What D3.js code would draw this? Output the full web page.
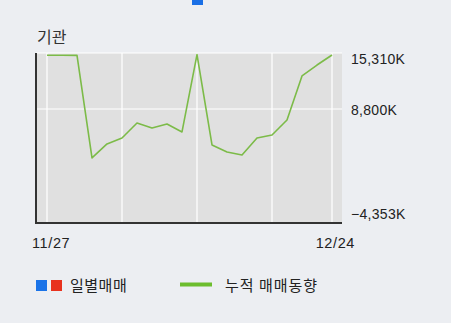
<!DOCTYPE html>
<html>
<head>
<meta charset="utf-8">
<script src="https://cdn.jsdelivr.net/npm/d3@7"></script>
<style>
  body { margin: 0; background: #eceef2; }
  svg { display: block; }
</style>
</head>
<body>
<div id="chart"></div>
<script>
// Data (cumulative net buying, thousand shares)
const dates = ["11/27", "11/28", "11/29", "12/02", "12/03", "12/04", "12/05", "12/06", "12/09", "12/10",
               "12/11", "12/12", "12/13", "12/16", "12/17", "12/18", "12/19", "12/20", "12/23", "12/24"];
const cumulative = [15280, 15280, 15260, 2890, 4580, 5300, 7110, 6510, 6990, 6030,
                    15360, 4460, 3610, 3250, 5300, 5660, 7470, 12780, 14100, 15310];
const yTicks = [15310, 8800, -4353];
const xTickLabels = ["11/27", "12/24"];
const gridIdx = [0, 5, 10, 15, 19];

const width = 451, height = 323;
const plot = { left: 36, right: 342, top: 53, bottom: 223 };

const svg = d3.select("#chart").append("svg")
  .attr("width", width)
  .attr("height", height);

// top legend marker (cut off)
svg.append("rect").attr("x", 192).attr("y", -6).attr("width", 11).attr("height", 11).attr("fill", "#1a6fe6");

// title
svg.append("text").attr("x", 37).attr("y", 43)
  .attr("font-family", "Noto Sans CJK KR").attr("font-size", 16).attr("fill", "#333")
  .text("기관");

// scales
const x = d3.scalePoint().domain(dates).range([47, 332]);
const y = d3.scaleLinear().domain([-4353, 15310]).range([218, 55]);

// plot background
svg.append("rect")
  .attr("x", plot.left).attr("y", plot.top)
  .attr("width", plot.right - plot.left).attr("height", plot.bottom - plot.top)
  .attr("fill", "#e0e0e0");

// grid
svg.append("g").selectAll("line").data(gridIdx).join("line")
  .attr("x1", i => x(dates[i])).attr("x2", i => x(dates[i]))
  .attr("y1", plot.top).attr("y2", plot.bottom)
  .attr("stroke", "#fff").attr("stroke-width", 1.2);
svg.append("g").selectAll("line").data([15310 + 200, 8800]).join("line")
  .attr("x1", plot.left).attr("x2", plot.right)
  .attr("y1", d => Math.round(y(d))).attr("y2", d => Math.round(y(d)))
  .attr("stroke", "#fff").attr("stroke-width", 1.2);

// axes lines
svg.append("line").attr("x1", plot.left).attr("x2", plot.left)
  .attr("y1", plot.top).attr("y2", plot.bottom + 1)
  .attr("stroke", "#333").attr("stroke-width", 2);
svg.append("line").attr("x1", plot.left - 1).attr("x2", plot.right)
  .attr("y1", plot.bottom).attr("y2", plot.bottom)
  .attr("stroke", "#333").attr("stroke-width", 2);

// cumulative line
const line = d3.line()
  .x((d, i) => x(dates[i]))
  .y(d => y(d));
svg.append("path")
  .datum(cumulative)
  .attr("fill", "none")
  .attr("stroke", "#7cbb48")
  .attr("stroke-width", 1.6)
  .attr("stroke-linejoin", "round")
  .attr("d", line);

// y labels (top and bottom labels are nudged inward like the original)
const labelNudge = [9, 6, 1];
svg.append("g").selectAll("text").data(yTicks).join("text")
  .attr("x", 351)
  .attr("y", (d, i) => y(d) + labelNudge[i])
  .attr("font-family", "Liberation Sans, Arial").attr("font-size", 14).attr("fill", "#222")
  .attr("letter-spacing", 0.3)
  .text(d => d3.format(",")(d) + "K");

// x labels
svg.append("text").attr("x", 32).attr("y", 248)
  .attr("font-family", "Liberation Sans, Arial").attr("font-size", 14.5).attr("fill", "#222")
  .attr("letter-spacing", 0.6)
  .text(xTickLabels[0]);
svg.append("text").attr("x", 355).attr("y", 248).attr("text-anchor", "end")
  .attr("font-family", "Liberation Sans, Arial").attr("font-size", 14.5).attr("fill", "#222")
  .attr("letter-spacing", 0.6)
  .text(xTickLabels[1]);

// bottom legend
svg.append("rect").attr("x", 36).attr("y", 280).attr("width", 11).attr("height", 11).attr("fill", "#1a73e8");
svg.append("rect").attr("x", 51).attr("y", 280).attr("width", 11).attr("height", 11).attr("fill", "#e8321e");
svg.append("text").attr("x", 70).attr("y", 291)
  .attr("font-family", "Noto Sans CJK KR").attr("font-size", 15).attr("fill", "#222")
  .attr("letter-spacing", 0.5)
  .text("일별매매");
svg.append("line").attr("x1", 180).attr("x2", 212).attr("y1", 284.5).attr("y2", 284.5)
  .attr("stroke", "#6cbd2e").attr("stroke-width", 4);
svg.append("text").attr("x", 225).attr("y", 291)
  .attr("font-family", "Noto Sans CJK KR").attr("font-size", 15).attr("fill", "#222")
  .attr("letter-spacing", 1)
  .text("누적 매매동향");
</script>
</body>
</html>
